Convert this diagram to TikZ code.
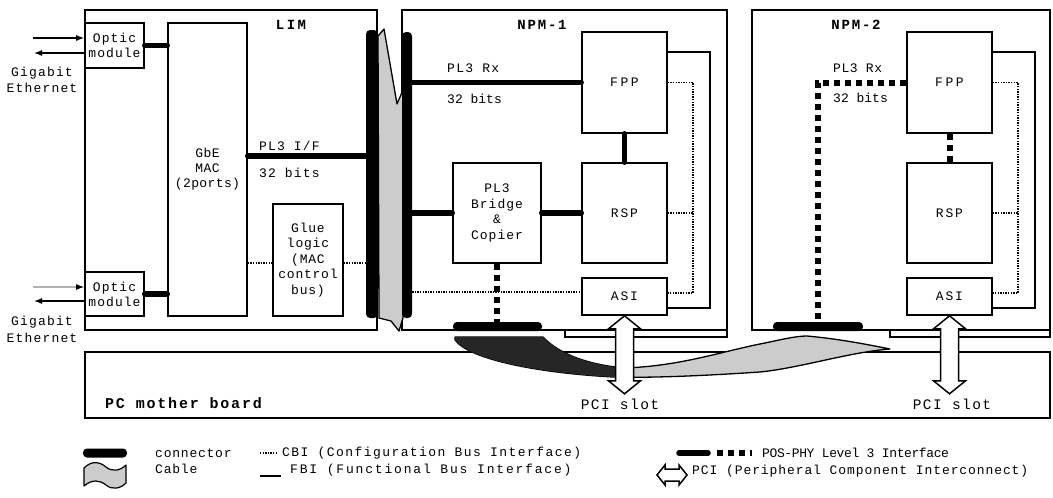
\documentclass[tikz,border=0pt]{standalone}
\usepackage{fontspec}
\setmainfont{Liberation Mono}
\usetikzlibrary{arrows.meta,calc}
\begin{document}
\begin{tikzpicture}[x=1pt,y=-1pt,
  outer/.style={draw, line width=1.2pt, inner sep=0pt},
  box/.style={draw, line width=1.6pt, inner sep=0pt, align=center,
    font=\fontsize{13}{15.5}\selectfont\addfontfeature{LetterSpace=6}},
  conn/.style={fill=black, rounded corners=4pt, inner sep=0pt},
  lbl/.style={inner sep=0pt, font=\fontsize{13}{15}\selectfont\addfontfeature{LetterSpace=#1}},
  lbl/.default=6,
  ttl/.style={inner sep=0pt, font=\fontsize{14}{16}\selectfont\bfseries\addfontfeature{LetterSpace=#1}},
  ttl/.default=13,
  big/.style={inner sep=0pt, font=\fontsize{14.5}{16}\selectfont\addfontfeature{LetterSpace=10}},
  pl3/.style={line width=5.5pt, line cap=round},
  pl3d/.style={line width=6pt, dash pattern=on 6pt off 5pt},
  fbi/.style={line width=1.5pt},
  cbi/.style={line width=1.3pt, dash pattern=on 1.4pt off 1.2pt},
  cable/.style={fill=gray!40, draw=black, line width=1.3pt, line join=round},
  pci/.style={draw, fill=white, line width=1.5pt, line join=miter},
  gbe/.style={line width=1.3pt, -{Latex[length=8pt,width=6pt]}}
]
\fill[white] (0,0) rectangle (1053,498);
\useasboundingbox (0,0) rectangle (1053,498);

% helper levels
\coordinate (yPLI) at (0,156);
\coordinate (yGl) at (0,263);
\coordinate (yCa) at (0,292);
\coordinate (yF) at (0,52);
\coordinate (yA) at (0,308);

% outer boxes
\node[outer, minimum width=292pt, minimum height=320pt] (lim) at (231,170) {};
\node[outer, minimum width=325pt, minimum height=320pt] (npm1) at (564.5,170) {};
\node[outer, minimum width=298pt, minimum height=320pt] (npm2) at (901,170) {};
\node[outer, minimum width=965pt, minimum height=66pt] (mb) at (567.5,385) {};
\node[outer, fill=white, minimum width=162pt, minimum height=7pt] (edge1) at (646,333.5) {};
\node[outer, fill=white, minimum width=160pt, minimum height=7pt] (edge2) at (970,333.5) {};

% titles
\node[ttl=18] (limt) at (291,25) {LIM};
\node[ttl] (npm1t) at (542,25) {NPM-1};
\node[ttl] (npm2t) at (856,25) {NPM-2};
\node[anchor=west, inner sep=0pt, font=\fontsize{15}{16}\selectfont\bfseries\addfontfeature{LetterSpace=12}] (mbt) at (105,403) {PC mother board};
\node[big] (slot1) at (620,404) {PCI slot};
\node[big] (slot2) at (952,404) {PCI slot};

% LIM internals
\node[box, minimum width=59pt, minimum height=45pt, font=\fontsize{13}{15}\selectfont\addfontfeature{LetterSpace=8}] (optic1) at (114.5,45.5) {Optic\\module};
\node[box, minimum width=59pt, minimum height=44pt, font=\fontsize{13}{15}\selectfont\addfontfeature{LetterSpace=8}] (optic2) at (114.5,294) {Optic\\module};
\node[box, minimum width=79pt, minimum height=293pt, font=\fontsize{13}{15}\selectfont\addfontfeature{LetterSpace=3}] (mac) at (207.5,169.5) {GbE\\MAC\\(2ports)};
\node[box, minimum width=70pt, minimum height=112pt] (glue) at (308,260) {Glue\\logic\\(MAC\\control\\bus)};

% NPM-1 internals
\node[box, minimum width=85pt, minimum height=101pt, font=\fontsize{13}{15}\selectfont\addfontfeature{LetterSpace=20}] (fpp1) at (624.5,82.5) {FPP};
\node[box, minimum width=85pt, minimum height=100pt, font=\fontsize{13}{15}\selectfont\addfontfeature{LetterSpace=14}] (rsp1) at (624.5,213) {RSP};
\node[box, minimum width=88pt, minimum height=100pt, font=\fontsize{13}{15.7}\selectfont\addfontfeature{LetterSpace=8}] (bridge) at (497,213) {PL3\\Bridge\\\&\\Copier};
\node[box, minimum width=85pt, minimum height=37pt, font=\fontsize{13}{15}\selectfont\addfontfeature{LetterSpace=14}] (asi1) at (624.5,296.5) {ASI};

% NPM-2 internals
\node[box, minimum width=85pt, minimum height=101pt, font=\fontsize{13}{15}\selectfont\addfontfeature{LetterSpace=20}] (fpp2) at (949.5,82.5) {FPP};
\node[box, minimum width=85pt, minimum height=100pt, font=\fontsize{13}{15}\selectfont\addfontfeature{LetterSpace=14}] (rsp2) at (949.5,213) {RSP};
\node[box, minimum width=85pt, minimum height=37pt, font=\fontsize{13}{15}\selectfont\addfontfeature{LetterSpace=14}] (asi2) at (949.5,296.5) {ASI};

% bottom cable between NPM-1 and NPM-2
\path[cable] (455,337) -- (543,337) .. controls (560,355) and (590,365) .. (625,368)
  .. controls (680,366) and (720,352) .. (760,344)
  .. controls (780,340) and (795,336) .. (807,336)
  .. controls (840,339) and (870,345) .. (890,349)
  .. controls (850,352) and (800,368) .. (760,372)
  .. controls (700,376) and (650,378) .. (613,377)
  .. controls (540,373) and (470,360) .. (455,340) -- cycle;
\fill[black!85] (455,337) -- (543,337) .. controls (560,355) and (590,365) .. (625,368)
  -- (613,377) .. controls (540,373) and (470,360) .. (455,340) -- cycle;

% vertical cable between LIM and NPM-1
\path[cable] (378,36) -- (384,29) -- (397,104) -- (403,90) -- (403,318) -- (399,331) -- (391,321) -- (379,318) -- cycle;

% connectors
\node[conn, minimum width=12pt, minimum height=288pt] (connL) at (372,174) {};
\node[conn, minimum width=10pt, minimum height=286pt] (connN) at (407,175) {};
\node[conn, minimum width=89pt, minimum height=9pt] (connB1) at (497.5,326.5) {};
\node[conn, minimum width=90pt, minimum height=9pt] (connB2) at (818,326.5) {};

% PCI arrows
\draw[pci] (asi1.south) -- ++(16,13) -- ++(-7,0) -- ++(0,52) -- ++(7,0) -- ++(-16,13)
  -- ++(-16,-13) -- ++(7,0) -- ++(0,-52) -- ++(-7,0) -- cycle;
\draw[pci] (asi2.south) -- ++(16,13) -- ++(-7,0) -- ++(0,52) -- ++(7,0) -- ++(-16,13)
  -- ++(-16,-13) -- ++(7,0) -- ++(0,-52) -- ++(-7,0) -- cycle;

% Gigabit Ethernet arrows
\coordinate (g1in) at (33,38);
\coordinate (g1out) at (34,53);
\coordinate (g2in) at (33,287);
\coordinate (g2out) at (34,301);
\draw[gbe] (g1in) -- (optic1.west |- g1in);
\draw[gbe] (optic1.west |- g1out) -- (g1out);
\draw[gbe, draw=gray!60, -{Latex[length=8pt,width=6pt,color=black]}] (g2in) -- (optic2.west |- g2in);
\draw[gbe] (optic2.west |- g2out) -- (g2out);
\node[lbl=9] (ge1a) at (42,73) {Gigabit};
\node[lbl=9] (ge1b) at (42,88) {Ethernet};
\node[lbl=9] (ge2a) at (42,322) {Gigabit};
\node[lbl=9] (ge2b) at (42,338) {Ethernet};

% LIM links
\draw[pl3] (optic1.east) -- (optic1.east -| mac.west);
\draw[pl3] (optic2.east) -- (optic2.east -| mac.west);
\draw[pl3] (mac.east |- yPLI) -- (connL.west |- yPLI);
\node[lbl=9, anchor=west] (pl3if) at (259,146) {PL3 I/F};
\node[lbl=9, anchor=west] (bits1) at (259,173) {32 bits};
\draw[cbi] (mac.east |- yGl) -- (glue.west |- yGl);
\draw[cbi] (glue.east |- yGl) -- (connL.west |- yGl);

% NPM-1 links
\draw[pl3] (connN.east |- fpp1.west) -- (fpp1.west);
\node[lbl=10, anchor=west] (rx1) at (447,68) {PL3 Rx};
\node[lbl=0, anchor=west] (bits2) at (447,99) {32 bits};
\draw[pl3] (connN.east |- bridge.west) -- (bridge.west);
\draw[pl3] (bridge.east) -- (rsp1.west);
\draw[pl3] (fpp1.south) -- (rsp1.north);
\draw[pl3d] (bridge.south) -- (bridge.south |- connB1.north);
\draw[cbi] (connN.east |- yCa) -- (asi1.west |- yCa);
\draw[fbi] (fpp1.east |- yF) -- (710,52) -- (710,308) -- (asi1.east |- yA);
\draw[cbi] (fpp1.east) -- (693,82.5) -- (693,293) -- (asi1.east |- 0,293);
\draw[cbi] (rsp1.east) -- (693,213);

% NPM-2 links
\draw[pl3d] (fpp2.west) -| (connB2.north);
\node[lbl=4, anchor=west] (rx2) at (833,68) {PL3 Rx};
\node[lbl=0, anchor=west] (bits3) at (833,98) {32 bits};
\draw[pl3d] (fpp2.south) -- (rsp2.north);
\draw[fbi] (fpp2.east |- yF) -- (1035,52) -- (1035,308) -- (asi2.east |- yA);
\draw[cbi] (fpp2.east) -- (1018,82.5) -- (1018,293) -- (asi2.east |- 0,293);
\draw[cbi] (rsp2.east) -- (1018,213);

% legend
\node[conn, minimum width=44pt, minimum height=9pt] (lgconn) at (105,453) {};
\node[lbl, anchor=west] (lgconnt) at (155,453) {connector};
\draw[cbi] (260,453) -- (277,453);
\node[lbl=11, anchor=west] (lgcbi) at (282,453) {CBI (Configuration Bus Interface)};
\path[cable, line width=1.2pt] (84,468) .. controls (92,460) and (100,462) .. (106,467)
  .. controls (112,472) and (120,471) .. (126,465) -- (126,483)
  .. controls (120,489) and (112,490) .. (106,485)
  .. controls (100,480) and (92,479) .. (84,486) -- cycle;
\node[lbl, anchor=west] (lgcab) at (155,469) {Cable};
\draw[fbi] (260,476) -- (281,476);
\node[lbl=14, anchor=west] (lgfbi) at (290,470) {FBI (Functional Bus Interface)};
\draw[pl3] (679,453) -- (708,453);
\draw[pl3d] (717,453) -- (752,453);
\node[lbl=-3, anchor=west] (lgpos) at (762,453) {POS-PHY Level 3 Interface};
\draw[pci] (657,475) -- ++(8,-10) -- ++(0,4) -- ++(14,0) -- ++(0,-4) -- ++(8,10)
  -- ++(-8,10) -- ++(0,-4) -- ++(-14,0) -- ++(0,4) -- cycle;
\node[lbl=7, anchor=west] (lgpci) at (692,471) {PCI (Peripheral Component Interconnect)};
\end{tikzpicture}
\end{document}
